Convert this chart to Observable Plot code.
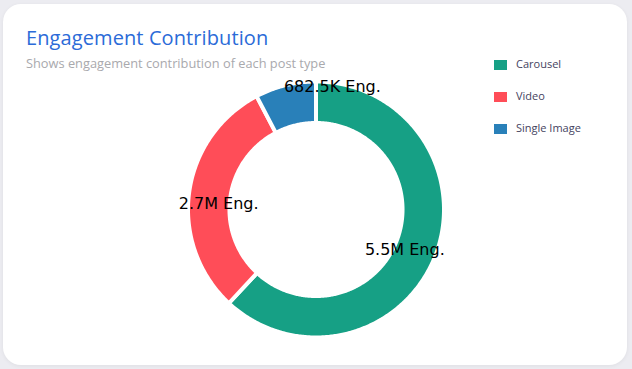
<!DOCTYPE html>
<html>
<head>
<meta charset="utf-8">
<script src="https://cdn.jsdelivr.net/npm/d3@7"></script>
<script src="https://cdn.jsdelivr.net/npm/@observablehq/plot@0.6"></script>
<style>
  html, body { margin: 0; padding: 0; }
  body { width: 632px; height: 369px; background: #ececf1; position: relative; overflow: hidden; font-family: "Open Sans", sans-serif; }
  #card { position: absolute; left: 3px; top: 4px; width: 624px; height: 361px; background: #fff; border-radius: 18px; box-shadow: 0 1px 4px rgba(0,0,0,0.06); }
  #title { position: absolute; left: 26px; top: 24px; font-size: 20px; font-weight: 500; color: #2b6bd8; letter-spacing: 0.1px; white-space: nowrap; }
  #subtitle { position: absolute; left: 26px; top: 54px; font-size: 12.8px; color: #a9a9ad; white-space: nowrap; }
  #legend { position: absolute; left: 494px; top: 58px; }
  .item { position: absolute; left: 0; height: 14px; white-space: nowrap; }
  .sw { position: absolute; left: 0; top: 2px; width: 13px; height: 10px; }
  .lt { position: absolute; left: 22px; top: -2px; font-size: 11px; color: #45435e; }
  #chart { position: absolute; left: 0; top: 74px; }
</style>
</head>
<body>
<div id="card"></div>
<div id="title">Engagement Contribution</div>
<div id="subtitle">Shows engagement contribution of each post type</div>
<div id="legend"></div>
<div id="chart"></div>
<script>
const categories = ["Carousel", "Video", "Single Image"];
const values = [5500000, 2700000, 682500];
const valueLabels = ["5.5M Eng.", "2.7M Eng.", "682.5K Eng."];
const colors = ["#16a085", "#ff4d58", "#2980b9"];

// layout (pixels)
const W = 632, H = 280;
const CX = 315.5, CY = 135;   // donut centre inside the svg
const R = 128;                // px per unit (outer radius)
const INNER = 0.676;          // inner radius in units

const pie = d3.pie().sort(null).value(d => d)(values);

// polygon outline of each slice (geometry of the arcs)
const pts = [];
pie.forEach((p, i) => {
  const n = Math.max(8, Math.ceil((p.endAngle - p.startAngle) / 0.01));
  for (let k = 0; k <= n; k++) {
    const a = p.startAngle + (p.endAngle - p.startAngle) * k / n;
    pts.push({cat: categories[i], x: Math.sin(a), y: Math.cos(a)});
  }
  for (let k = n; k >= 0; k--) {
    const a = p.startAngle + (p.endAngle - p.startAngle) * k / n;
    pts.push({cat: categories[i], x: INNER * Math.sin(a), y: INNER * Math.cos(a)});
  }
});

const mid = (1 + INNER) / 2;
const labelRows = pie.map((p, i) => {
  const a = (p.startAngle + p.endAngle) / 2;
  return {cat: categories[i], label: valueLabels[i], x: mid * Math.sin(a), y: mid * Math.cos(a)};
});

const nudges = {"Carousel": [-11, 1], "Video": [9, 9], "Single Image": [42, -18]};
const textMarks = labelRows.map(r => Plot.text([r], {
  x: "x", y: "y", text: "label",
  dx: nudges[r.cat][0], dy: nudges[r.cat][1],
  fontSize: 16, fill: "#000", fontFamily: "DejaVu Sans", textAnchor: "middle", lineAnchor: "middle"
}));

const chart = Plot.plot({
  width: W, height: H,
  margin: 0,
  x: {domain: [-CX / R, (W - CX) / R], axis: null},
  y: {domain: [-(H - CY) / R, CY / R], axis: null},
  color: {domain: categories, range: colors},
  style: {background: "transparent", overflow: "visible"},
  marks: [
    Plot.line(pts, {x: "x", y: "y", z: "cat", fill: "cat", stroke: "white", strokeWidth: 4, curve: "linear-closed"}),
    ...textMarks
  ]
});
document.getElementById("chart").appendChild(chart);

const legend = document.getElementById("legend");
categories.forEach((c, i) => {
  const it = document.createElement("div");
  it.className = "item";
  it.style.top = (i * 32) + "px";
  it.innerHTML = `<div class="sw" style="background:${colors[i]}"></div><div class="lt">${c}</div>`;
  legend.appendChild(it);
});
</script>
</body>
</html>
